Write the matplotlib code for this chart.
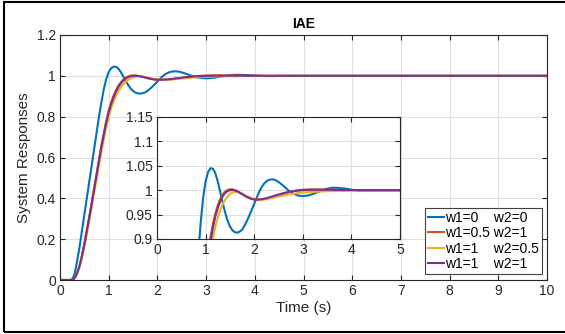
import matplotlib
matplotlib.use("Agg")
import matplotlib.pyplot as plt
from matplotlib.patches import Rectangle
from matplotlib.ticker import FormatStrFormatter

plt.rcParams['font.family'] = ['Liberation Sans', 'DejaVu Sans']

# time samples (s)
t = [0, 0.2, 0.25, 0.3, 0.35, 0.4, 0.45, 0.5, 0.55, 0.6, 0.65, 0.7, 0.75, 0.8,
     0.85, 0.9, 0.95, 1.0, 1.05, 1.1, 1.15, 1.2, 1.25, 1.3, 1.35, 1.4, 1.45,
     1.5, 1.55, 1.6, 1.65, 1.7, 1.75, 1.8, 1.85, 1.9, 1.95, 2.0, 2.05, 2.1,
     2.15, 2.2, 2.25, 2.3, 2.35, 2.4, 2.45, 2.5,
     2.6, 2.7, 2.8, 2.9, 3.0, 3.1, 3.2, 3.3, 3.4, 3.5, 3.6, 3.7, 3.8, 3.9, 4.0,
     4.2, 4.4, 4.6, 4.8, 5, 6, 7, 8, 9, 10]

# w1=0 w2=0
y_00 = [0, 0, 0.003, 0.03, 0.09, 0.16, 0.24, 0.32, 0.40, 0.48, 0.56, 0.64, 0.72, 0.80,
        0.87, 0.935, 0.985, 1.018, 1.037, 1.045, 1.044, 1.035, 1.018, 0.997, 0.975, 0.955, 0.938,
        0.926, 0.918, 0.914, 0.913, 0.915, 0.919, 0.927, 0.937, 0.948, 0.960, 0.972, 0.984, 0.996,
        1.006, 1.013, 1.018, 1.021, 1.022, 1.022, 1.020, 1.017,
        1.009, 1.000, 0.993, 0.989, 0.988, 0.989, 0.992, 0.996, 1.000, 1.003, 1.005, 1.005, 1.004, 1.003, 1.001,
        0.999, 0.999, 1.0, 1.0, 1.0, 1.0, 1.0, 1.0, 1.0, 1.0]

# w1=0.5 w2=1
y_051 = [0, 0, 0, 0.01, 0.035, 0.07, 0.12, 0.18, 0.245, 0.31, 0.38, 0.45, 0.52, 0.59,
         0.66, 0.72, 0.78, 0.83, 0.87, 0.903, 0.93, 0.952, 0.969, 0.982, 0.991, 0.997, 1.0005,
         1.002, 1.002, 1.000, 0.998, 0.995, 0.992, 0.989, 0.986, 0.984, 0.982, 0.981, 0.9805, 0.981,
         0.9812, 0.982, 0.983, 0.984, 0.9855, 0.987, 0.9885, 0.990,
         0.993, 0.996, 0.998, 1.000, 1.001, 1.0015, 1.0015, 1.0015, 1.001, 1.001, 1.001, 1.0008, 1.0006, 1.0005, 1.0004,
         1.0003, 1.0002, 1.0001, 1.0, 1.0, 1.0, 1.0, 1.0, 1.0, 1.0]

# w1=1 w2=0.5
y_105 = [0, 0, 0, 0.008, 0.03, 0.062, 0.107, 0.163, 0.225, 0.289, 0.356, 0.424, 0.492, 0.561,
         0.628, 0.69, 0.748, 0.798, 0.84, 0.874, 0.902, 0.925, 0.944, 0.959, 0.971, 0.98, 0.987,
         0.992, 0.995, 0.9965, 0.9965, 0.995, 0.993, 0.9905, 0.988, 0.9855, 0.9835, 0.982, 0.981, 0.9805,
         0.9805, 0.981, 0.9815, 0.9825, 0.9835, 0.985, 0.986, 0.987,
         0.989, 0.991, 0.9925, 0.994, 0.995, 0.996, 0.9965, 0.997, 0.9975, 0.998, 0.998, 0.9985, 0.9985, 0.9985, 0.999,
         0.999, 0.999, 0.999, 0.999, 0.999, 0.999, 0.999, 0.999, 0.999, 0.999]

# w1=1 w2=1
y_11 = [0, 0, 0, 0.009, 0.033, 0.067, 0.115, 0.174, 0.238, 0.303, 0.372, 0.442, 0.512, 0.582,
        0.651, 0.712, 0.771, 0.822, 0.862, 0.895, 0.923, 0.946, 0.963, 0.977, 0.987, 0.994, 0.998,
        1.000, 1.0005, 0.9995, 0.998, 0.995, 0.992, 0.989, 0.986, 0.984, 0.982, 0.981, 0.9805, 0.981,
        0.9815, 0.9825, 0.9835, 0.985, 0.9865, 0.988, 0.9895, 0.991,
        0.994, 0.996, 0.998, 0.999, 1.0, 1.0005, 1.0008, 1.001, 1.001, 1.001, 1.0008, 1.0006, 1.0005, 1.0004, 1.0003,
        1.0002, 1.0001, 1.0, 1.0, 1.0, 1.0, 1.0, 1.0, 1.0, 1.0]

series = [y_00, y_051, y_105, y_11]
labels = ['w1=0    w2=0', 'w1=0.5 w2=1', 'w1=1    w2=0.5', 'w1=1    w2=1']
colors = ['#0072BD', '#D95319', '#EDB120', '#7E2F8E']

main_yticks = [0, 0.2, 0.4, 0.6, 0.8, 1.0, 1.2]
main_xticks = list(range(0, 11))
inset_yticks = [0.9, 0.95, 1.0, 1.05, 1.1, 1.15]
inset_xticks = list(range(0, 6))

axcol = '#262626'
gridcol = '#dfdfdf'


def style_axes(ax):
    for s in ax.spines.values():
        s.set_color(axcol)
        s.set_linewidth(0.8)
    ax.tick_params(direction='in', length=3.5, width=0.8, colors=axcol,
                   labelsize=10, top=True, right=True, pad=3)
    ax.grid(True, color=gridcol, linewidth=0.8)
    ax.set_axisbelow(True)
    ax.xaxis.set_major_formatter(FormatStrFormatter('%g'))
    ax.yaxis.set_major_formatter(FormatStrFormatter('%g'))


fig = plt.figure(figsize=(5.65, 3.34), dpi=100)
fig.add_artist(Rectangle((4 / 565, 2 / 334), 1.0, 330 / 334, transform=fig.transFigure,
                         fill=False, edgecolor='black', linewidth=1.5))

ax = fig.add_axes([60 / 565, 54 / 334, 487 / 565, 245 / 334])
for y, lab, c in zip(series, labels, colors):
    ax.plot(t, y, color=c, linewidth=1.5, label=lab)
ax.set_xlim(0, 10)
ax.set_ylim(0, 1.2)
ax.set_xticks(main_xticks)
ax.set_yticks(main_yticks)
style_axes(ax)
ax.set_title('IAE', fontsize=10, fontweight='bold', color='black', pad=5)
ax.set_xlabel('Time (s)', fontsize=11, color=axcol, labelpad=2)
ax.set_ylabel('System Responses', fontsize=11, color=axcol, labelpad=4)

leg = ax.legend(loc='lower right', bbox_to_anchor=(0.99, 0.025), borderaxespad=0,
                fontsize=10, handlelength=1.15, handletextpad=0.1, borderpad=0.2,
                labelspacing=0.1, fancybox=False, framealpha=1, edgecolor='#404040')
leg.get_frame().set_linewidth(0.8)
for txt in leg.get_texts():
    txt.set_color('black')

axin = fig.add_axes([157 / 565, 95 / 334, 243 / 565, 122 / 334])
for y, c in zip(series, colors):
    axin.plot(t, y, color=c, linewidth=1.5)
axin.set_xlim(0, 5)
axin.set_ylim(0.9, 1.15)
axin.set_xticks(inset_xticks)
axin.set_yticks(inset_yticks)
style_axes(axin)

fig.savefig('out.png', dpi=100)
